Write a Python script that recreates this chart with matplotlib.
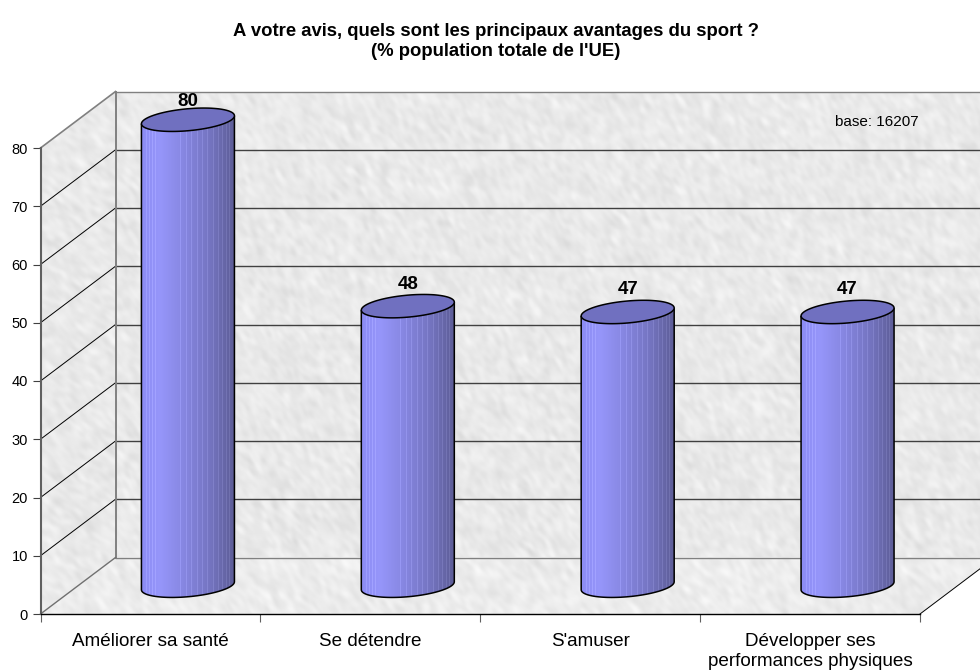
import matplotlib
matplotlib.use('Agg')
import matplotlib.pyplot as plt
import numpy as np
from matplotlib.colors import LinearSegmentedColormap
from matplotlib.patches import Polygon, PathPatch
from matplotlib.path import Path

categories = ['Améliorer sa santé', 'Se détendre', "S'amuser",
              'Développer ses\nperformances physiques']
values = [80, 48, 47, 47]
y_ticks = [0, 10, 20, 30, 40, 50, 60, 70, 80]

plt.rcParams['font.family'] = ['Liberation Sans', 'DejaVu Sans']

W, H = 980, 671
fig = plt.figure(figsize=(W / 100, H / 100), dpi=100)
left, right, bottom, top = 40.5, 920, 614, 148
ax = fig.add_axes([left / W, 1 - bottom / H, (right - left) / W, (bottom - top) / H])
ax.set_xlim(0, 4)
ax.set_ylim(0, 80)

# pixels to data
ux = 4 / (right - left)
uy = 80 / (bottom - top)
dx = 75 * ux    # depth of the 3d box
dy = 56.5 * uy


def texture(rows, cols, sx, sy, base, amp):
    # marble like grey, no data in it
    yy, xx = np.mgrid[0:rows, 0:cols]
    v = np.sin(xx * 12.9898 + yy * 78.233) * 43758.5453
    v = v - np.floor(v) - 0.5
    fy = np.fft.fftfreq(rows)[:, None]
    fx = np.fft.fftfreq(cols)[None, :]
    u = fx * sx + fy * sy
    w = -fx * sy + fy * sx
    g = np.exp(-(u ** 2) * 280 - (w ** 2) * 70)
    s = np.fft.ifft2(np.fft.fft2(v) * g).real
    s = s / s.std()
    return np.clip(base + amp * s, 0, 255) / 255


def wall(points, tex):
    poly = Polygon(points, closed=True, transform=ax.transData, fc='none', ec='none', clip_on=False)
    ax.add_patch(poly)
    xs = [p[0] for p in points]
    ys = [p[1] for p in points]
    im = ax.imshow(tex, cmap='gray', vmin=0, vmax=1, aspect='auto', zorder=1,
                   extent=[min(xs), max(xs), min(ys), max(ys)], interpolation='bilinear')
    im.set_clip_path(poly)
    im.set_clip_box(fig.bbox)


far_x = 4 + dx
wall([(dx, dy), (far_x, dy), (far_x, 80 + dy), (dx, 80 + dy)], texture(520, 880, 0.5, 0.85, 233, 3.5))
wall([(0, 0), (dx, dy), (dx, 80 + dy), (0, 80)], texture(520, 80, 0.8, 0.6, 233, 3.5))
wall([(0, 0), (4, 0), (far_x, dy), (dx, dy)], texture(60, 960, 0.6, 0.8, 236, 3.5))
ax.set_xlim(0, 4)
ax.set_ylim(0, 80)

# gridlines, box edges
for t in y_ticks:
    edge = '#808080' if t in (0, 80) else '#404040'
    ax.plot([dx, far_x], [t + dy, t + dy], color=edge, lw=1.0, zorder=2, clip_on=False)
    if t not in (0, 80):
        ax.plot([0, dx], [t, t + dy], color='black', lw=0.7, zorder=2, clip_on=False)
ax.plot([dx, dx], [dy, 80 + dy], color='#808080', lw=1.4, zorder=2, clip_on=False)
ax.plot([0, dx], [0, dy], color='#707070', lw=1.0, zorder=2, clip_on=False)
ax.plot([0, dx], [80, 80 + dy], color='#808080', lw=1.2, zorder=2, clip_on=False)
ax.plot([4, far_x], [0, dy], color='black', lw=0.7, zorder=2, clip_on=False)

# cylinder shading
cmap = LinearSegmentedColormap.from_list('cyl', [
    (0.0, '#8c8cf4'), (0.2, '#9696fa'), (0.45, '#8787e2'),
    (0.75, '#7474c0'), (1.0, '#5e5e98')])
stripes = [0.06, 0.09, 0.13, 0.16, 0.43, 0.49, 0.55, 0.61, 0.67, 0.72, 0.79, 0.84, 0.89, 0.93, 0.96]
shade = np.linspace(0, 1, 93)
rgb = cmap(shade)[None, :, :3].copy()
for s in stripes:
    c = int(s * 92)
    rgb[0, c] = np.clip(rgb[0, c] + 0.06, 0, 1)

half_w = 46.5 * ux
b = 11.0 * uy    # vertical half axis of the ellipse
k = 4.0 * uy     # tilt, right side higher
t_front = np.linspace(np.pi, 2 * np.pi, 60)
t_all = np.linspace(0, 2 * np.pi, 120)

for i, (name, val) in enumerate(zip(categories, values)):
    cx = i + 0.5 + dx / 2
    y0 = dy / 2
    y1 = y0 + val
    # body outline: down left side, along the front of the base, up right side
    bx = cx + half_w * np.cos(t_front)
    by = y0 + b * np.sin(t_front) + k * np.cos(t_front)
    body_x = np.r_[cx - half_w, bx, cx + half_w]
    body_y = np.r_[y1 - k, by, y1 + k]
    body = Path(np.c_[body_x, body_y])
    outline = PathPatch(body, fc='none', ec='black', lw=1.1, zorder=5, clip_on=False)
    ax.add_patch(outline)
    im = ax.imshow(rgb, aspect='auto', zorder=4, interpolation='nearest',
                   extent=[cx - half_w, cx + half_w, y0 - b - k, y1 + k])
    fill = PathPatch(body, fc='none', ec='none', transform=ax.transData, clip_on=False)
    ax.add_patch(fill)
    im.set_clip_path(fill)
    im.set_clip_box(fig.bbox)
    # top of the cylinder
    ax.fill(cx + half_w * np.cos(t_all), y1 + b * np.sin(t_all) + k * np.cos(t_all),
            fc='#7070c0', ec='black', lw=1.1, zorder=6, clip_on=False)
    off = 18 if val == 80 else 22
    ax.annotate(str(val), (cx, y1), xytext=(0, off * 0.72), textcoords='offset points',
                ha='center', va='center', fontsize=13.5, fontweight='bold', zorder=7,
                annotation_clip=False)

ax.set_xlim(0, 4)
ax.set_ylim(0, 80)

# axes
for side in ('top', 'right'):
    ax.spines[side].set_visible(False)
ax.spines['left'].set_color('#606060')
ax.spines['left'].set_linewidth(1.5)
ax.spines['bottom'].set_color('black')
ax.spines['bottom'].set_linewidth(1.0)
ax.spines['left'].set_zorder(3)
ax.spines['bottom'].set_zorder(3)
ax.set_yticks(y_ticks)
ax.set_yticklabels([str(t) for t in y_ticks], fontsize=10.5)
ax.tick_params(axis='y', length=6, width=0.8, color='#404040', pad=3)
ax.set_xticks(range(5))
ax.set_xticklabels([])
ax.tick_params(axis='x', which='major', length=6, width=0.8, color='#606060')
ax.set_xticks(np.arange(len(categories)) + 0.5, minor=True)
ax.set_xticklabels(categories, minor=True, fontsize=13.6, linespacing=1.28)
ax.tick_params(axis='x', which='minor', length=0, pad=13.5)

fig.text(496 / W, 1 - 31 / H, 'A votre avis, quels sont les principaux avantages du sport ?',
         ha='center', va='center', fontsize=13.3, fontweight='bold')
fig.text(496 / W, 1 - 52 / H, "(% population totale de l'UE)",
         ha='center', va='center', fontsize=13.3, fontweight='bold')
fig.text(877 / W, 1 - 122 / H, 'base: 16207', ha='center', va='center', fontsize=11)

fig.savefig('out.png', dpi=100)
